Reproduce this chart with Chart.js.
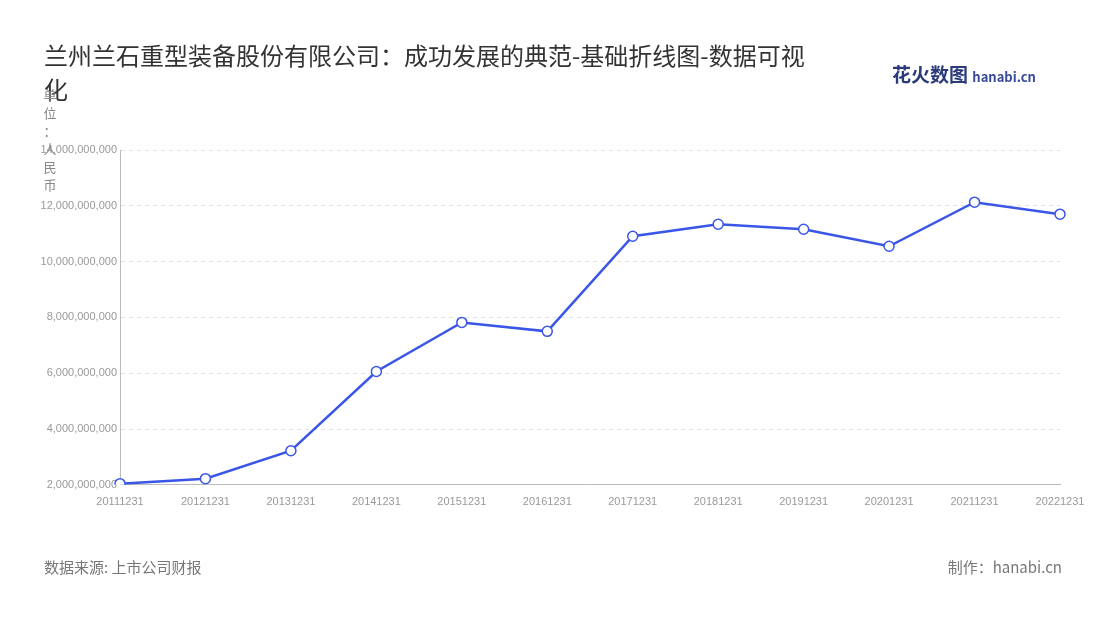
<!DOCTYPE html>
<html>
<head>
<meta charset="utf-8">
<script src="https://cdn.jsdelivr.net/npm/chart.js@4"></script>
<style>
  body { margin: 0; background: #fff; font-family: "Noto Sans CJK SC", "Noto Sans", sans-serif; }
  #wrap { position: relative; width: 1100px; height: 620px; }
  #title { position: absolute; left: 44px; top: 38px; width: 775px; font-size: 24px; color: #333; line-height: 34px; }
  #logo { position: absolute; left: 892px; top: 60px; font-size: 19px; font-weight: bold; color: #2a3a7a; }
  #logo span { font-size: 13px; color: #3a4a9a; }
  #src { position: absolute; left: 44px; top: 556px; font-size: 15px; color: #777; }
  #made { position: absolute; right: 38px; top: 556px; font-size: 15px; color: #777; }
  #unit { position: absolute; left: 42px; top: 86px; width: 16px; font-size: 13px; color: #888; line-height: 18px; text-align: center; }
  #box { position: absolute; left: 0; top: 0; width: 1100px; height: 620px; }
</style>
</head>
<body>
<div id="wrap">
  <div id="box"><canvas id="chart"></canvas></div>
  <div id="title">兰州兰石重型装备股份有限公司：成功发展的典范-基础折线图-数据可视化</div>
  <div id="logo">花火数图 <span>hanabi.cn</span></div>
  <div id="unit">单<br>位<br>：<br>人<br>民<br>币</div>
  <div id="src">数据来源: 上市公司财报</div>
  <div id="made">制作：hanabi.cn</div>
</div>
<script>
const years = ["20111231", "20121231", "20131231", "20141231", "20151231", "20161231",
  "20171231", "20181231", "20191231", "20201231", "20211231", "20221231"];
const revenue = [2040000000, 2220000000, 3220000000, 6060000000, 7820000000, 7500000000,
  10910000000, 11340000000, 11160000000, 10550000000, 12130000000, 11700000000];

const ctx = document.getElementById("chart").getContext("2d");
new Chart(ctx, {
  type: "line",
  data: {
    labels: years,
    datasets: [{
      data: revenue,
      borderColor: "#3a56e8",
      borderWidth: 2.5,
      pointRadius: 5,
      pointBorderWidth: 1.5,
      pointBackgroundColor: "#fff",
      pointBorderColor: "#3a56e8",
      tension: 0
    }]
  },
  options: {
    responsive: true,
    maintainAspectRatio: false,
    animation: false,
    layout: { padding: { left: 40, right: 40, top: 150, bottom: 108 } },
    plugins: { legend: { display: false }, tooltip: { enabled: false } },
    scales: {
      x: {
        offset: false,
        grid: { display: false },
        border: { color: "#bbb" },
        ticks: { color: "#999", font: { size: 11 }, maxRotation: 0, autoSkip: false }
      },
      y: {
        min: 2000000000,
        max: 14000000000,
        ticks: {
          stepSize: 2000000000,
          color: "#999",
          font: { size: 11 },
          callback: v => v.toLocaleString("en-US")
        },
        border: { display: true, color: "#bbb", dash: [4, 4] },
        grid: { color: "#e2e2e2", drawTicks: false },
        afterFit: s => { s.width = 80; }
      }
    }
  }
});
</script>
</body>
</html>
